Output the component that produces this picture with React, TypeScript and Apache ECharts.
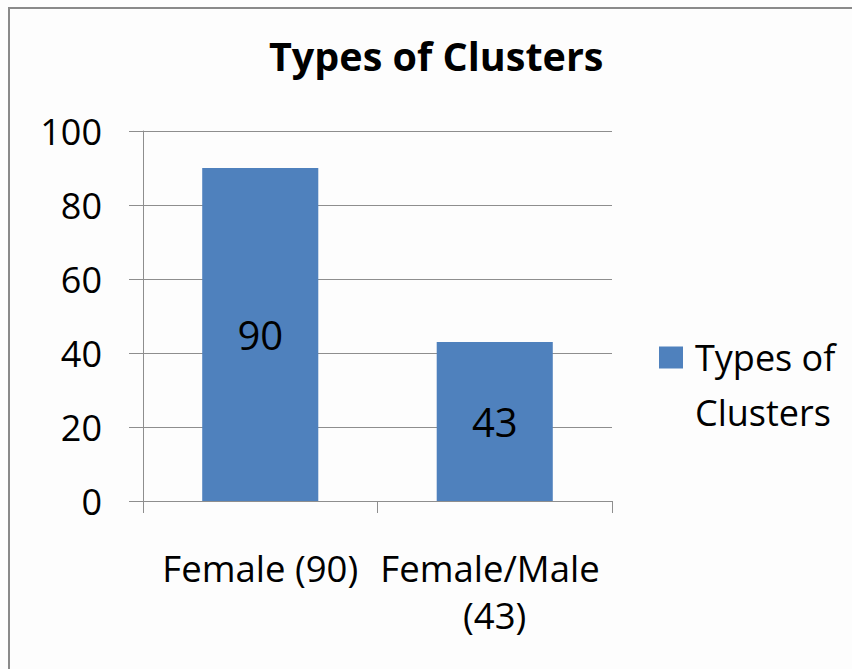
import React, { useEffect, useRef } from "react";
import * as echarts from "echarts";

const chartTitle = "Types of Clusters";
const seriesName = "Types of Clusters";
const legendLines = ["Types of", "Clusters"];
const categories = ["Female (90)", "Female/Male (43)"];
const values = [90, 43];
const yMin = 0;
const yMax = 100;
const yInterval = 20;

const FONT = "'Open Sans', sans-serif";
const GRAY = "#8e8e8e";

export default function App() {
  const ref = useRef<HTMLDivElement>(null);
  useEffect(() => {
    if (!ref.current) return;
    const chart = echarts.init(ref.current, null, { renderer: "svg" });
    chart.setOption({
      animation: false,
      backgroundColor: "transparent",
      textStyle: { fontFamily: FONT },
      title: {
        text: chartTitle,
        left: 269,
        top: 31,
        padding: [5, 0, 5, 0],
        textStyle: { fontFamily: FONT, fontSize: 39.5, fontWeight: "bold", color: "#000", lineHeight: 39 },
      },
      legend: {
        left: 659,
        top: 275,
        padding: 0,
        icon: "rect",
        itemWidth: 24,
        itemHeight: 22,
        formatter: () => "\n" + legendLines.join("\n"),
        textStyle: {
          fontFamily: FONT,
          fontSize: 36,
          color: "#000",
          lineHeight: 55,
          padding: [0, 0, 0, 7],
        },
        data: [seriesName],
      },
      grid: { left: 143, right: 240, top: 131, bottom: 168, containLabel: false },
      xAxis: {
        type: "category",
        data: categories,
        boundaryGap: true,
        axisLine: { show: true, lineStyle: { color: GRAY, width: 1 } },
        axisTick: { show: true, length: 12, inside: false, lineStyle: { color: GRAY } },
        axisLabel: {
          interval: 0,
          margin: 43,
          fontFamily: FONT,
          fontSize: 36.5,
          color: "#000",
          lineHeight: 47,
          width: 244,
          overflow: "break",
          align: "center",
        },
      },
      yAxis: {
        type: "value",
        min: yMin,
        max: yMax,
        interval: yInterval,
        axisLine: { show: true, lineStyle: { color: GRAY, width: 1 } },
        axisTick: { show: true, length: 14, lineStyle: { color: GRAY } },
        splitLine: { show: true, lineStyle: { color: GRAY, width: 1 } },
        axisLabel: { margin: 41, fontFamily: FONT, fontSize: 36, color: "#000" },
      },
      series: [
        {
          name: seriesName,
          type: "bar",
          data: values,
          barWidth: "49.5%",
          itemStyle: { color: "#4F81BD" },
          label: {
            show: true,
            position: "inside",
            fontFamily: FONT,
            fontSize: 40,
            color: "#000",
          },
        },
      ],
      graphic: [
        {
          type: "polyline",
          shape: { points: [[9, 669], [9, 8], [852, 8]] },
          style: { fill: "none", stroke: "#8a8a8a", lineWidth: 2 },
          z: 100,
        },
      ],
    });
    return () => chart.dispose();
  }, []);
  return (
    <div
      ref={ref}
      style={{
        position: "fixed",
        left: 0,
        top: 0,
        width: 852,
        height: 669,
        overflow: "hidden",
        background: "#fdfdfd",
      }}
    />
  );
}
